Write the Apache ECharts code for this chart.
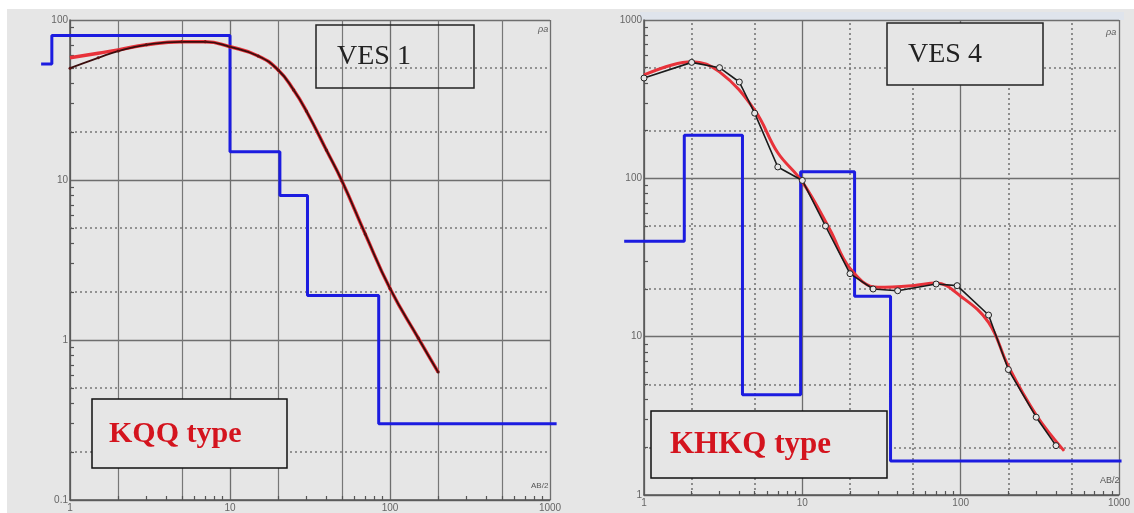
<!DOCTYPE html>
<html><head><meta charset="utf-8">
<script src="https://cdn.jsdelivr.net/npm/echarts@6/dist/echarts.min.js"></script>
<style>html,body{margin:0;padding:0;background:#fff}#c{width:1134px;height:513px}</style>
</head><body><div id="c"></div>
<script>
// ---- VES 1 ----
const ves1ModelBreaks = [0.66, 0.77, 10, 20.5, 30.5, 85, 1100];
const ves1ModelRho    = [53, 80, 15, 8, 1.9, 0.3];
const ves1FieldX   = [1, 1.5, 2, 3, 5, 7, 10, 15, 20, 25, 30, 40, 50, 70, 100, 150, 200];
const ves1FieldRho = [50, 58, 64, 70, 73, 73, 68, 59.6, 48.7, 36.5, 27, 15.4, 9.9, 4.6, 2.1, 1.03, 0.63];
const ves1CalcX   = [1, 1.5, 2, 3, 5, 7, 10, 15, 20, 25, 30, 40, 50, 70, 100, 150, 200];
const ves1CalcRho = [58, 62, 65, 70, 73, 73, 68, 59.6, 48.7, 36.5, 27, 15.4, 9.9, 4.6, 2.1, 1.03, 0.63];
// ---- VES 4 ----
const ves4ModelBreaks = [0.75, 1.8, 4.2, 9.8, 21.5, 36.3, 1050];
const ves4ModelRho    = [40, 187, 4.3, 110, 18, 1.64];
const ves4FieldX   = [1, 2, 3, 4, 5, 7, 10, 14, 20, 28, 40, 70, 95, 150, 200, 300, 400];
const ves4FieldRho = [430, 540, 500, 406, 258, 118, 97, 50, 25, 20, 19.5, 21.5, 21, 13.7, 6.2, 3.1, 2.05];
const ves4CalcX   = [1, 1.5, 2, 3, 5, 7, 10, 15, 20, 30, 50, 70, 100, 150, 200, 300, 450];
const ves4CalcRho = [450, 520, 545, 470, 270, 145, 95, 47, 27, 20.5, 21, 21.8, 18, 12.3, 6.5, 3.2, 1.9];
// ---- axes ----
const xTickLabels = ['1', '10', '100', '1000'];
const ves1YTickLabels = ['0.1', '1', '10', '100'];
const ves4YTickLabels = ['1', '10', '100', '1000'];
const xMinorLines = [2, 5, 20, 50, 200, 500];
const ves1YMinorLines = [0.2, 0.5, 2, 5, 20, 50];
const ves4YMinorLines = [2, 5, 20, 50, 200, 500];
const minorTickMult = [2, 3, 4, 5, 6, 7, 8, 9];

function steps(b, r) { const out = []; for (let i = 0; i < r.length; i++) { out.push([b[i], r[i]]); out.push([b[i + 1], r[i]]); } return out; }
function zip(x, y) { return x.map((v, i) => [v, y[i]]); }
function decadeTicks(lo, hi) { const out = []; for (let d = lo; d < hi; d *= 10) minorTickMult.forEach(m => out.push(+(d * m).toPrecision(3))); return out; }

const gridCol = '#6e6e6e';
function xAx(idx, min, max) {
  return { type: 'log', logBase: 10, gridIndex: idx, min: min, max: max,
    axisLine: { show: true, lineStyle: { color: '#555', width: 1.5 } },
    axisTick: { show: false },
    axisLabel: { color: '#666', fontSize: 10, margin: 3, fontFamily: 'Liberation Sans',
      formatter: v => { const s = String(v); return xTickLabels.includes(s) ? s : ''; } },
    splitLine: { show: true, lineStyle: { color: gridCol, width: 1.3 } } };
}
function yAx(idx, min, max, labels) {
  return { type: 'log', logBase: 10, gridIndex: idx, min: min, max: max,
    axisLine: { show: true, lineStyle: { color: '#555', width: 1.5 } },
    axisTick: { show: false },
    axisLabel: { color: '#666', fontSize: 10, margin: 2, fontFamily: 'Liberation Sans',
      formatter: v => { const s = String(+v.toPrecision(3)); return labels.includes(s) ? s : ''; } },
    splitLine: { show: true, lineStyle: { color: gridCol, width: 1.3 } } };
}
function hiddenAx(idx, min, max) {
  return { type: 'log', logBase: 10, gridIndex: idx, min: min, max: max, show: false, splitLine: { show: false } };
}
function guideSeries(idx, xs, ys, vType, hType, xMin, yMin, xTicks, yTicks, pxPerDec) {
  const f = Math.pow(10, 4 / pxPerDec);
  const tickStyle = { type: 'solid', color: '#555', width: 1.2 };
  const ticks = xTicks.map(v => [{ coord: [v, yMin], lineStyle: tickStyle }, { coord: [v, yMin * f] }])
    .concat(yTicks.map(v => [{ coord: [xMin, v], lineStyle: tickStyle }, { coord: [xMin * f, v] }]));
  return { type: 'line', xAxisIndex: idx, yAxisIndex: idx, data: [], silent: true,
    markLine: { silent: true, symbol: 'none', label: { show: false },
      data: xs.map(v => ({ xAxis: v, lineStyle: { type: vType, color: '#777', width: vType === 'solid' ? 1.2 : 1.6 } }))
        .concat(ys.map(v => ({ yAxis: v, lineStyle: { type: hType, color: '#777', width: 1.6 } })))
        .concat(ticks) } };
}

const blue = '#1c1ce0';
const extLo = Math.pow(10, -0.25), extHi = Math.pow(10, 3.1);
const option = {
  backgroundColor: '#fff',
  animation: false,
  grid: [
    { left: 70, top: 20, width: 480, height: 480, show: false },
    { left: 644, top: 20, width: 475, height: 475, show: false },
    { left: 70 - 0.25 * 160, top: 20, width: 3.35 * 160, height: 480, show: false },
    { left: 644 - 0.25 * 475 / 3, top: 20, width: 3.35 * 475 / 3, height: 475, show: false }
  ],
  xAxis: [xAx(0, 1, 1000), xAx(1, 1, 1000), hiddenAx(2, extLo, extHi), hiddenAx(3, extLo, extHi)],
  yAxis: [yAx(0, 0.1, 100, ves1YTickLabels), yAx(1, 1, 1000, ves4YTickLabels), hiddenAx(2, 0.1, 100), hiddenAx(3, 1, 1000)],
  graphic: [
    { type: 'rect', z: -10, silent: true, shape: { x: 7, y: 9, width: 1127, height: 504 }, style: { fill: '#e6e6e6' } },
    { type: 'rect', z: -9, silent: true, shape: { x: 640, y: 12, width: 484, height: 8 }, style: { fill: '#dfe4ec' } },
    { type: 'rect', z: 50, shape: { x: 316, y: 25, width: 158, height: 63 }, style: { fill: 'rgba(0,0,0,0)', stroke: '#222', lineWidth: 1.5 } },
    { type: 'text', z: 51, x: 337, y: 43, style: { text: 'VES 1', font: '28px "Liberation Serif"', fill: '#222' } },
    { type: 'rect', z: 50, shape: { x: 92, y: 399, width: 195, height: 69 }, style: { fill: '#e6e6e6', stroke: '#111', lineWidth: 1.5 } },
    { type: 'text', z: 51, x: 109, y: 419, style: { text: 'KQQ type', font: 'bold 30px "Liberation Serif"', fill: '#d4141e' } },
    { type: 'rect', z: 50, shape: { x: 887, y: 23, width: 156, height: 62 }, style: { fill: '#e6e6e6', stroke: '#222', lineWidth: 1.5 } },
    { type: 'text', z: 51, x: 908, y: 41, style: { text: 'VES 4', font: '28px "Liberation Serif"', fill: '#222' } },
    { type: 'rect', z: 50, shape: { x: 651, y: 411, width: 236, height: 67 }, style: { fill: '#e6e6e6', stroke: '#111', lineWidth: 1.5 } },
    { type: 'text', z: 51, x: 670, y: 429, style: { text: 'KHKQ type', font: 'bold 31px "Liberation Serif"', fill: '#d4141e' } },
    { type: 'text', z: 51, x: 531, y: 482, style: { text: 'AB/2', font: '8px "Liberation Sans"', fill: '#555' } },
    { type: 'text', z: 51, x: 1100, y: 476, style: { text: 'AB/2', font: '9px "Liberation Sans"', fill: '#555' } },
    { type: 'text', z: 51, x: 538, y: 25, style: { text: 'ρa', font: 'italic 9px "Liberation Sans"', fill: '#555' } },
    { type: 'text', z: 51, x: 1106, y: 28, style: { text: 'ρa', font: 'italic 9px "Liberation Sans"', fill: '#555' } }
  ],
  series: [
    guideSeries(0, xMinorLines, ves1YMinorLines, 'solid', [2, 3], 1, 0.1, decadeTicks(1, 1000), decadeTicks(0.1, 100), 160),
    guideSeries(1, xMinorLines, ves4YMinorLines, [2, 3], [2, 3], 1, 1, decadeTicks(1, 1000), decadeTicks(1, 1000), 475 / 3),
    { type: 'line', xAxisIndex: 2, yAxisIndex: 2, data: steps(ves1ModelBreaks, ves1ModelRho), clip: false, symbol: 'none', lineStyle: { color: blue, width: 3 }, z: 5 },
    { type: 'line', xAxisIndex: 0, yAxisIndex: 0, data: zip(ves1CalcX, ves1CalcRho), smooth: 0.5, symbol: 'none', lineStyle: { color: '#e8323a', width: 3.5 }, z: 6 },
    { type: 'line', xAxisIndex: 0, yAxisIndex: 0, data: zip(ves1FieldX, ves1FieldRho), smooth: 0.5, symbol: 'circle', symbolSize: 3, itemStyle: { color: '#5a1010' }, lineStyle: { color: '#3a0d0d', width: 1.8 }, z: 7 },
    { type: 'line', xAxisIndex: 3, yAxisIndex: 3, data: steps(ves4ModelBreaks, ves4ModelRho), clip: false, symbol: 'none', lineStyle: { color: blue, width: 3 }, z: 5 },
    { type: 'line', xAxisIndex: 1, yAxisIndex: 1, data: zip(ves4CalcX, ves4CalcRho), smooth: 0.4, symbol: 'none', lineStyle: { color: '#e8323a', width: 3 }, z: 6 },
    { type: 'line', xAxisIndex: 1, yAxisIndex: 1, data: zip(ves4FieldX, ves4FieldRho), symbol: 'circle', symbolSize: 6, itemStyle: { color: '#e6e6e6', borderColor: '#222', borderWidth: 1 }, lineStyle: { color: '#1a1a1a', width: 1.6 }, z: 7 }
  ]
};
echarts.init(document.getElementById('c')).setOption(option);
</script></body></html>
